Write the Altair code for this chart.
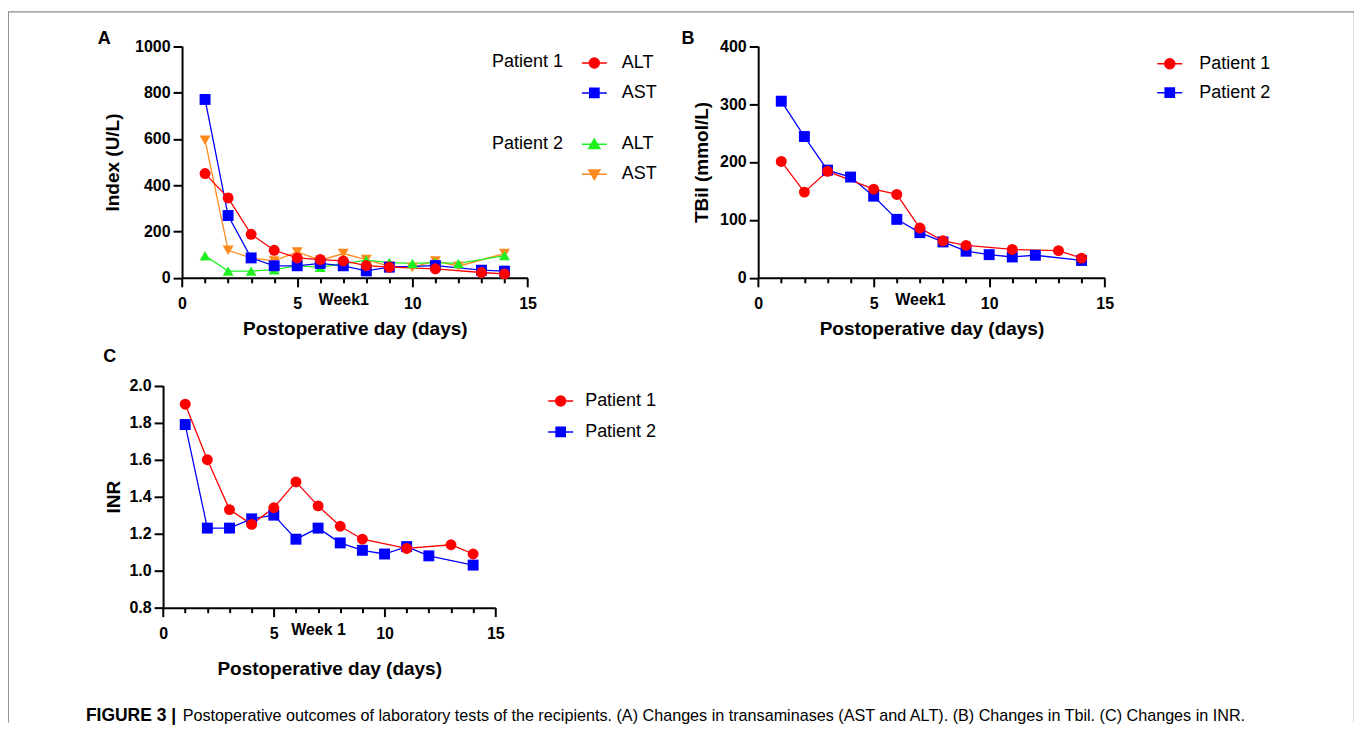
import altair as alt
import pandas as pd

F = "Liberation Sans, Arial, Helvetica, sans-serif"

# ---------------- data ----------------
days_p1 = [1, 2, 3, 4, 5, 6, 7, 8, 9, 11, 13, 14]
days_p2 = [1, 2, 3, 4, 5, 6, 7, 8, 9, 10, 11, 12, 14]
days_b_p1 = [1, 2, 3, 5, 6, 7, 8, 9, 11, 13, 14]

a_p1_alt = [450, 345, 188, 119, 86, 79, 73, 53, 46, 39, 23, 17]
a_p1_ast = [770, 269, 86, 52, 52, 62, 52, 30, 46, 53, 33, 29]
a_p2_alt = [95, 29, 29, 35, 52, 46, 60, 76, 66, 62, 66, 62, 96]
a_p2_ast = [594, 119, 86, 73, 112, 76, 105, 79, 50, 45, 73, 50, 105]

b_p1 = [201, 148, 184, 153, 144, 86, 64, 56, 49, 47, 34]
b_p2 = [305, 244, 186, 174, 141, 101, 78, 62, 46, 40, 36, 39, 30]

c_p1 = [1.90, 1.60, 1.33, 1.25, 1.34, 1.48, 1.35, 1.24, 1.17, 1.12, 1.14, 1.09]
c_p2 = [1.79, 1.23, 1.23, 1.28, 1.30, 1.17, 1.23, 1.15, 1.11, 1.09, 1.13, 1.08, 1.03]

x_ticks = list(range(16))
y_ticks_a = [0, 200, 400, 600, 800, 1000]
y_ticks_b = [0, 100, 200, 300, 400]
y_ticks_c = [0.8, 1.0, 1.2, 1.4, 1.6, 1.8, 2.0]

tests = ["ALT", "AST"]
patients = ["Patient 1", "Patient 2"]
caption_bold = "FIGURE 3 |"
caption_text = ("Postoperative outcomes of laboratory tests of the recipients. (A) Changes in "
                "transaminases (AST and ALT). (B) Changes in Tbil. (C) Changes in INR.")

# ---------------- styles ----------------
RED, BLUE, GREEN, ORANGE = "#ff0000", "#0000ff", "#1ff01f", "#ff8a1e"
W, H = 1348, 712

P_CIRCLE = "M-1,0H1M0.4,0A0.4,0.4,0,1,1,-0.4,0A0.4,0.4,0,1,1,0.4,0Z"
P_SQUARE = "M-1,0H1M-0.37,-0.37H0.37V0.37H-0.37Z"
P_TUP = "M-1,0H1M0,-0.42L0.44,0.34L-0.44,0.34Z"
P_TDOWN = "M-1,0H1M0,0.42L0.44,-0.34L-0.44,-0.34Z"


def xaxis(offset, week, title_padding):
    return alt.Axis(
        orient="bottom", offset=offset, values=x_ticks,
        labelExpr=f"datum.value == 7 ? '{week}' : (datum.value % 5 == 0 ? datum.label : '')",
        tickSize={"condition": {"test": "datum.value % 5 == 0", "value": 9}, "value": 5},
        labelPadding=9, labelOverlap=False, labelFlush=False, labelBound=False,
        title="Postoperative day (days)", titlePadding=title_padding)


def yaxis(offset, values, fmt, title, title_padding):
    return alt.Axis(
        orient="left", offset=offset, values=values, format=fmt, tickSize=9,
        labelPadding=3, labelOverlap=False, labelFlush=False, labelBound=False,
        title=title, titlePadding=title_padding)


def panel(series_list, xs, ys, xax, yax):
    x = alt.X("day:Q", scale=xs, axis=xax)
    y = alt.Y("value:Q", scale=ys, axis=yax)
    lines, points = [], []
    for days, vals, color, shape in series_list:
        df = pd.DataFrame({"day": days, "value": vals})
        lines.append(alt.Chart(df).mark_line(color=color, strokeWidth=1.3).encode(x=x, y=y))
        points.append(alt.Chart(df).mark_point(filled=True, shape=shape, size=120, color=color,
                                               opacity=1).encode(x=x, y=y))
    return alt.layer(*lines, *points)


def legend_layer(domain, colors, paths, lx, ly, label_offset, row_padding,
                 title=None, title_padding=0):
    kw = dict(orient="none", legendX=lx, legendY=ly, symbolSize=625, symbolStrokeWidth=1.5,
              labelOffset=label_offset, labelFont=F, labelFontSize=18, labelColor="black",
              rowPadding=row_padding, padding=0)
    if title:
        kw.update(title=title, titleOrient="left", titleAnchor="start", titleFont=F,
                  titleFontSize=18, titleFontWeight="normal", titleColor="black",
                  titlePadding=title_padding, titleBaseline="line-top", titleLineHeight=26)
    else:
        kw["title"] = None
    leg = alt.Legend(**kw)
    df = pd.DataFrame({"s": domain})
    return alt.Chart(df).transform_filter("false").mark_point(filled=True, opacity=1).encode(
        fill=alt.Fill("s:N", scale=alt.Scale(domain=domain, range=colors), legend=leg),
        stroke=alt.Stroke("s:N", scale=alt.Scale(domain=domain, range=colors), legend=leg),
        shape=alt.Shape("s:N", scale=alt.Scale(domain=domain, range=paths), legend=leg))


def note(text, x, y, size, weight, align="center", baseline="middle"):
    return alt.Chart(pd.DataFrame({"t": [text]})).mark_text(
        font=F, fontSize=size, fontWeight=weight, align=align, baseline=baseline,
        color="black").encode(text="t:N", x=alt.value(x), y=alt.value(y))


# ---------------- panel A ----------------
xsA = alt.Scale(domain=[0, 15], range=[174.3, 520.3], nice=False, zero=False)
ysA = alt.Scale(domain=[0, 1000], range=[266.7, 34.7], nice=False, zero=False)
panelA = panel(
    [(days_p2, a_p2_ast, ORANGE, "triangle-down"),
     (days_p2, a_p2_alt, GREEN, "triangle-up"),
     (days_p1, a_p1_ast, BLUE, "square"),
     (days_p1, a_p1_alt, RED, "circle")],
    xsA, ysA, xaxis(266.7 - H, "Week1", 8), yaxis(-174.3, y_ticks_a, "d", "Index (U/L)", 12))

# ---------------- panel B ----------------
xsB = alt.Scale(domain=[0, 15], range=[751.3, 1098.3], nice=False, zero=False)
ysB = alt.Scale(domain=[0, 400], range=[266.7, 34.7], nice=False, zero=False)
panelB = panel(
    [(days_p2, b_p2, BLUE, "square"),
     (days_b_p1, b_p1, RED, "circle")],
    xsB, ysB, xaxis(266.7 - H, "Week1", 8), yaxis(-751.3, y_ticks_b, "d", "TBil (mmol/L)", 8))

# ---------------- panel C ----------------
xsC = alt.Scale(domain=[0, 15], range=[155.3, 488], nice=False, zero=False)
ysC = alt.Scale(domain=[0.8, 2.0], range=[597, 374.7], nice=False, zero=False)
panelC = panel(
    [(days_p2, c_p2, BLUE, "square"),
     (days_p1, c_p1, RED, "circle")],
    xsC, ysC, xaxis(597 - H, "Week 1", 18), yaxis(-155.3, y_ticks_c, ".1f", "INR", 5))

# ---------------- legends ----------------
legA1 = legend_layer(tests, [RED, BLUE], [P_CIRCLE, P_SQUARE], 484.7, 38, 14, 7,
                     title=patients[0], title_padding=17)
legA2 = legend_layer(tests, [GREEN, ORANGE], [P_TUP, P_TDOWN], 484.7, 119.5, 14, 7,
                     title=patients[1], title_padding=17)
legB = legend_layer(patients, [RED, BLUE], [P_CIRCLE, P_SQUARE], 1150, 38.8, 16, 6)
legC = legend_layer(patients, [RED, BLUE], [P_CIRCLE, P_SQUARE], 540, 376.5, 11, 8)

# ---------------- annotations ----------------
notes = [
    note("A", 96.3, 28, 18, "bold"),
    note("B", 681, 28, 18, "bold"),
    note("C", 102, 346, 18, "bold"),
    note(caption_bold, 78, 711, 17.5, "bold", align="left", baseline="alphabetic"),
    note(caption_text, 175, 711, 16.2, "normal", align="left", baseline="alphabetic"),
]

chart = alt.layer(panelA, panelB, panelC, legA1, legA2, legB, legC, *notes).resolve_scale(
    x="independent", y="independent", fill="independent", stroke="independent",
    shape="independent"
).properties(
    width=W, height=H, padding={"left": 0, "top": 3, "right": 0, "bottom": 0},
    background="white"
).configure_view(
    stroke="#8a8a8a", strokeWidth=1.2, strokeDash=[W + H, W, H + 20]
).configure_axis(
    labelFont=F, labelFontSize=16, labelFontWeight="bold", labelColor="black",
    titleFont=F, titleFontSize=19, titleFontWeight="bold", titleColor="black",
    domainColor="black", domainWidth=2, tickColor="black", tickWidth=2, grid=False
)

chart.save("out.html", embed_options={"renderer": "svg", "actions": False})
